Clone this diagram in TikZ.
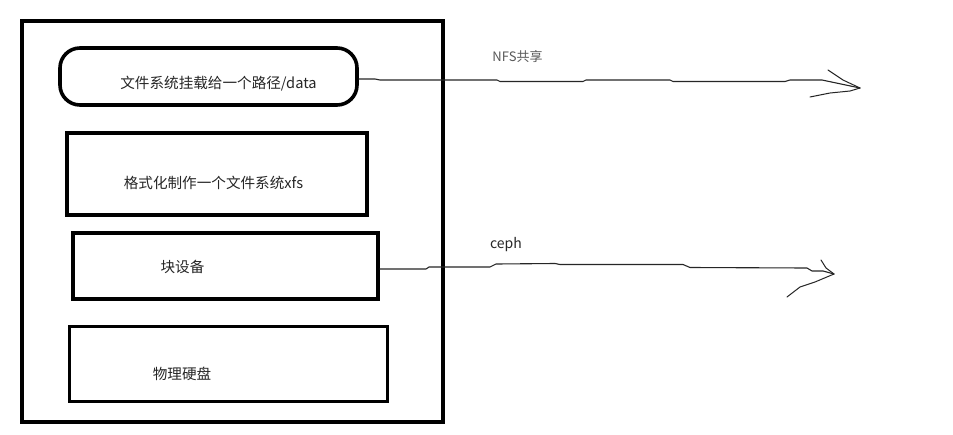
\documentclass[tikz,border=0pt]{standalone}
\usepackage{fontspec}
\setmainfont{Noto Sans CJK SC}
\begin{document}
\begin{tikzpicture}[x=1pt,y=-1pt,
  thickbox/.style={draw=black,line width=3.6pt,inner sep=0pt},
  lbl/.style={inner sep=0pt,text=black!85,font=\fontsize{14.6pt}{16pt}\selectfont},
  conn/.style={draw=black!85,line width=1.1pt,line join=round,line cap=round},
  barb/.style={draw=black!85,line width=1pt,line join=round,line cap=round}]
\useasboundingbox[fill=white] (0,0) rectangle (953,434);
% outer container
\node[thickbox,minimum width=421pt,minimum height=401pt] (outer) at (232.5,221.5) {};
% layers
\node[thickbox,rounded corners=20pt,minimum width=297pt,minimum height=57pt] (b1) at (208.5,76.5) {};
\node[thickbox,minimum width=300pt,minimum height=82pt] (b2) at (217,174) {};
\node[thickbox,minimum width=305pt,minimum height=66pt] (b3) at (225.5,266) {};
\node[thickbox,minimum width=318pt,minimum height=75pt] (b4) at (228.5,364) {};
% labels
\node[lbl] (t1) at (218.5,84) {文件系统挂载给一个路径/data};
\node[lbl] (t2) at (213.5,183) {格式化制作一个文件系统xfs};
\node[lbl] (t3) at (182.5,267) {块设备};
\node[lbl] (t4) at (182,374) {物理硬盘};
\node[lbl,text=black!65,font=\fontsize{13pt}{15pt}\selectfont] (nfs) at (517.5,57) {NFS共享};
\node[lbl,font=\fontsize{14pt}{16pt}\selectfont] (ceph) at (506,245) {ceph};
% tips
\coordinate (tip1) at (860,88);
\coordinate (tip2) at (834,274);
% connector 1
\draw[conn] (b1.east |- 0,79) -- (375,79) -- (380,80) -- (497,80) -- (500,81.5) -- (583,81.5) -- (586,80) -- (670,80) -- (673,81.5) -- (785,81.5) -- (790,80) -- (822,80) -- (tip1);
\draw[barb] (828,70) -- (843,80) -- (tip1);
\draw[barb] (810,97) -- (830,93) -- (850,91) -- (tip1);
% connector 2
\draw[conn] (b3.east |- 0,269) -- (426,269) -- (429,267) -- (490,267) -- (496,264) -- (555,263.5) -- (560,264.5) -- (683,264.5) -- (690,267.5) -- (807,268) -- (812,271) -- (823,271) -- (tip2);
\draw[barb] (821,260) -- (826,268) -- (tip2);
\draw[barb] (787,297) -- (800,287) -- (815,282) -- (tip2);
\end{tikzpicture}
\end{document}
